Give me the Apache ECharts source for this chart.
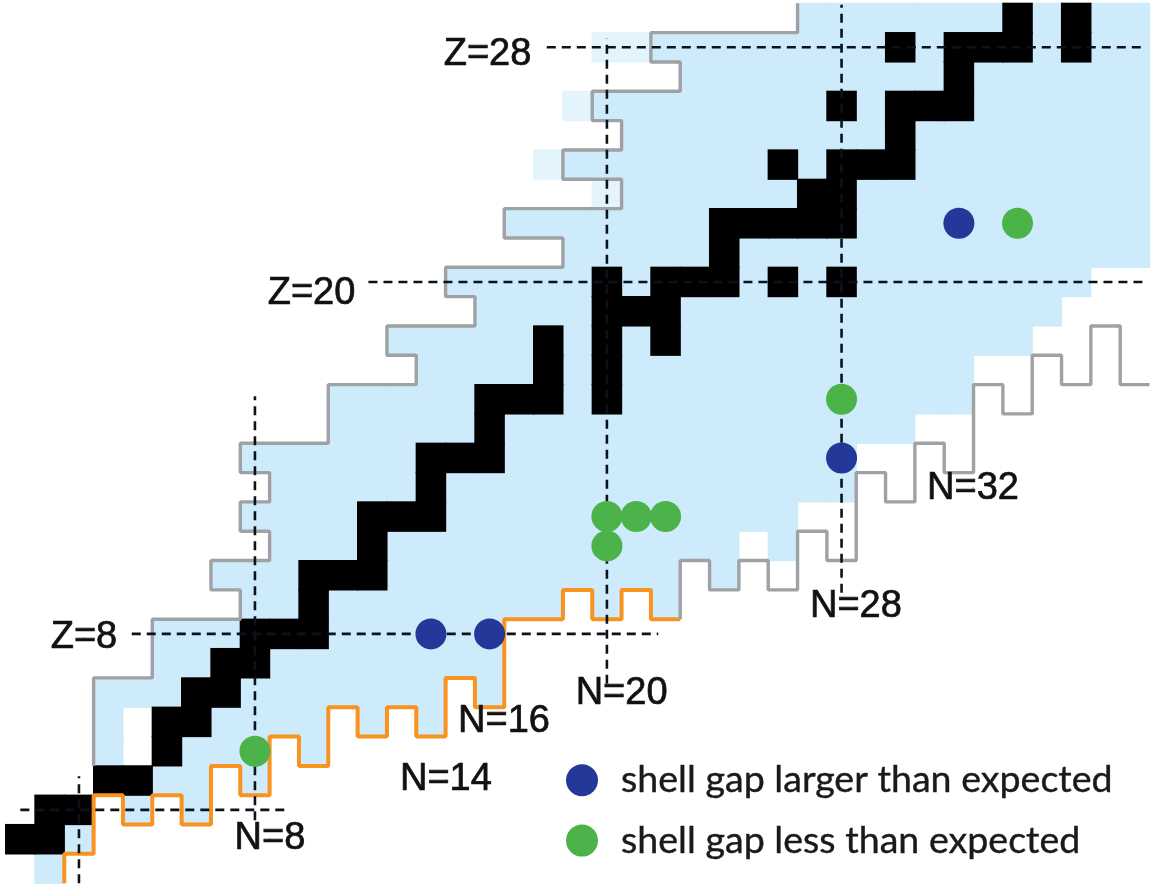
<!DOCTYPE html>
<html><head><meta charset="utf-8">
<script src="https://cdn.jsdelivr.net/npm/echarts@6/dist/echarts.min.js"></script>
<style>html,body{margin:0;padding:0;background:#fff}#c{width:1153px;height:893px}</style>
</head><body><div id="c"></div>
<script>
// ---------- data (N = neutron number, Z = proton number) ----------
// lightest known N for each Z (index = Z), proton-side boundary
const protonMinN = [1,0,1,3,3,3,3,5,5,8,7,9,8,9,8,11,11,14,13,16,15,19,17,21,19,21,20,23,22,27];
// lowest Z of known nuclides for each N (index = N)
const knownLowZ = [1,0,1,3,2,3,2,4,3,5,4,6,5,6,5,7,6,9,9,10,9,10,9,11,10,12,11,13,13,15,15,16,16,18,18,19,20,21,21];
// orange (observed neutron drip line) lowest Z for N = 1..22
const orangeStartN = 1;
const orangeLowZ = [0,1,3,2,3,2,4,3,5,4,6,5,6,5,7,6,9,9,10,9,10,9];
// grey (predicted neutron drip line) lowest Z for N = 23..38
const greyStartN = 23;
const greyLowZ = [11,10,11,10,12,11,14,13,15,14,17,16,18,17,19,17];
// stable nuclides: N values for each Z (index = Z)
const stableN = [[],[0,1],[1,2],[3,4],[5],[5,6],[6,7],[7,8],[8,9,10],[10],[10,11,12],[12],[12,13,14],[14],[14,15,16],[16],[16,17,18,20],[18,20],[18,20,22],[20,21,22],[20,22,23,24,26,28],[24],[24,25,26,27,28],[27,28],[26,28,29,30],[30],[28,30,31,32],[32],[30,32,33,34,36],[34,36]];
const holes = [[4,4],[4,5]];
const faintCells = [[18,24],[19,26],[20,23],[20,28],[21,28]];
const largerGap = [[14,8],[16,8],[28,14],[32,22]];
const lessGap = [[8,4],[20,11],[20,12],[21,12],[22,12],[28,16],[34,22]];
// dashed magic-number lines: [axis, value, from, to]
const dashLines = [['Z',2,0,9],['N',2,-0.5,3.15],['Z',8,3.8,21.75],['N',8,1.65,16.1],['Z',20,11.87,38.3],['N',20,6.3,28.3],['Z',28,17.95,38.3],['N',28,9.4,29.45]];
// text labels: [text, N, Z]
const labels = [['N=8',8.51,1.01],['N=14',14.51,3.02],['N=16',16.49,5.0],['N=20',20.5,5.98],['N=28',28.49,8.92],['N=32',32.48,12.97],['Z=8',2.17,7.86],['Z=20',9.93,19.62],['Z=28',15.93,27.74]];
const NMAX = 38, ZMAX = 29;

// ---------- build ----------
const isHole = (n,z) => holes.some(h => h[0]===n && h[1]===z);
const lightCells = [];
for (let z = 0; z <= ZMAX; z++) {
  for (let n = protonMinN[z]; n <= NMAX; n++) {
    if (z >= knownLowZ[n] && !isHole(n,z)) lightCells.push([n,z]);
  }
}
const blackCells = [];
stableN.forEach((ns,z) => ns.forEach(n => blackCells.push([n,z])));

const protonPath = [];
for (let z = 4; z <= ZMAX; z++) {
  protonPath.push([protonMinN[z]-0.5, z-0.5], [protonMinN[z]-0.5, z+0.5]);
}
const orangePath = [[orangeStartN+0.5, orangeLowZ[0]-0.5]];
for (let i = 1; i < orangeLowZ.length; i++) {
  const n = orangeStartN + i;
  orangePath.push([n-0.5, orangeLowZ[i]-0.5], [n+0.5, orangeLowZ[i]-0.5]);
}
const greyPath = [[greyStartN-0.5, orangeLowZ[orangeLowZ.length-1]-0.5]];
greyLowZ.forEach((z,i) => {
  const n = greyStartN + i;
  greyPath.push([n-0.5, z-0.5], [n+0.5, z-0.5]);
});

function cellRender(color){
  return function(params, api){
    const p = api.coord([api.value(0)-0.5, api.value(1)+0.5]);
    const s = api.size([1,1]);
    return {type:'rect', shape:{x:p[0]-0.6, y:p[1]-0.6, width:s[0]+1.2, height:s[1]+1.2},
      style:{fill:color}};
  };
}

const series = [
  {type:'custom', name:'known', data:lightCells, renderItem:cellRender('#cdebfa'), silent:true, z:1},
  {type:'custom', name:'faint', data:faintCells, renderItem:cellRender('#e4f4fc'), silent:true, z:1},
  {type:'custom', name:'stable', data:blackCells, renderItem:cellRender('#000000'), silent:true, z:2},
  {type:'line', name:'proton boundary', data:protonPath, symbol:'none', silent:true, z:3,
   lineStyle:{color:'#9fa1a4', width:3.4}},
  {type:'line', name:'neutron drip observed', data:orangePath, symbol:'none', silent:true, z:3,
   lineStyle:{color:'#f7931e', width:4}},
  {type:'line', name:'neutron drip predicted', data:greyPath, symbol:'none', silent:true, z:3,
   lineStyle:{color:'#9fa1a4', width:3.4}}
];
dashLines.forEach(d => {
  const pts = d[0]==='Z' ? [[d[2],d[1]],[d[3],d[1]]] : [[d[1],d[2]],[d[1],d[3]]];
  series.push({type:'line', data:pts, symbol:'none', silent:true, z:4,
    lineStyle:{color:'#0c121c', width:2.6, type:[9,6]}});
});
series.push(
  {type:'scatter', name:'shell gap larger than expected', data:largerGap, symbol:'circle', symbolSize:31,
   itemStyle:{color:'#24389a', opacity:1}, z:5, silent:true},
  {type:'scatter', name:'shell gap less than expected', data:lessGap, symbol:'circle', symbolSize:31,
   itemStyle:{color:'#4cb34a', opacity:1}, z:5, silent:true},
  {type:'scatter', name:'labels', symbolSize:1, itemStyle:{color:'#000', opacity:1}, z:6, silent:true,
   data:labels.map(l => ({name:l[0], value:[l[1], l[2]]})),
   label:{show:true, position:'inside', formatter:p => p.name, color:'#111111', opacity:1, fontSize:38,
     textBorderColor:'#111111', textBorderWidth:0.7,
     fontFamily:'Liberation Sans, Arial, sans-serif'}}
);

const chart = echarts.init(document.getElementById('c'), null, {renderer:'canvas'});
chart.setOption({
  animation:false,
  backgroundColor:'#ffffff',
  grid:{left:5.63, top:3.3, width:1143.9, height:879.9, containLabel:false},
  xAxis:{type:'value', min:-0.5, max:NMAX+0.5, show:false},
  yAxis:{type:'value', min:-0.5, max:ZMAX+0.5, show:false},
  legend:{
    show:true, orient:'vertical', left:561, top:756, itemWidth:32, itemHeight:32, itemGap:22,
    icon:'circle', selectedMode:false,
    data:['shell gap larger than expected','shell gap less than expected'],
    textStyle:{fontSize:37.6, lineHeight:32, fontFamily:'Lato, sans-serif', color:'#1a1a1a', padding:[0,0,0,18],
      textBorderColor:'#1a1a1a', textBorderWidth:0.4}
  },
  tooltip:{show:false},
  series:series
});
</script></body></html>
